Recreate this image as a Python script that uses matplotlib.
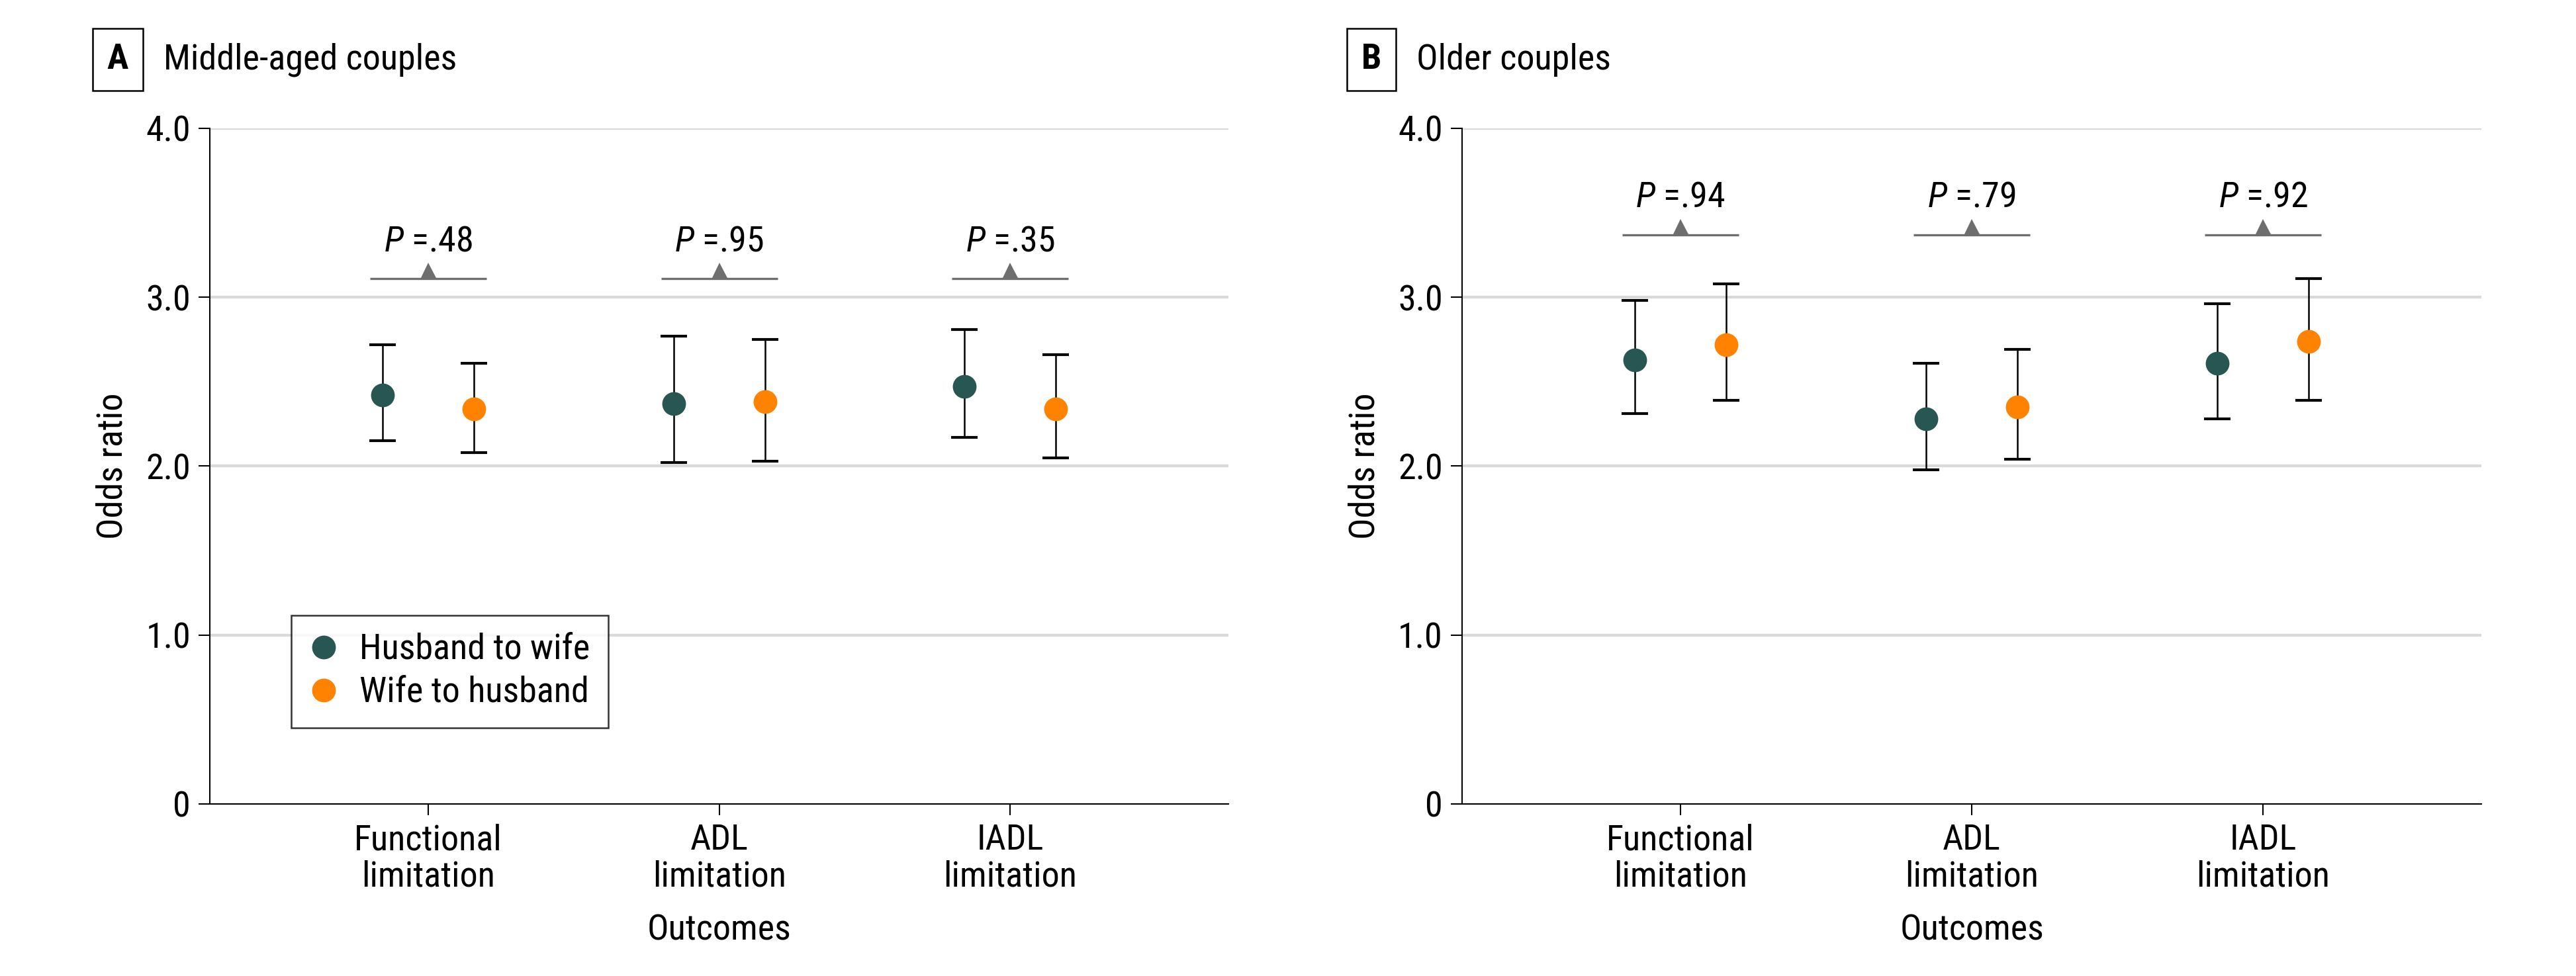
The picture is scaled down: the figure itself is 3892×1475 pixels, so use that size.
import matplotlib
matplotlib.use("Agg")
import matplotlib.pyplot as plt
import matplotlib.font_manager as fm
import matplotlib.transforms as mtransforms
from matplotlib.lines import Line2D

# ---------------- data ----------------
categories = ["Functional\nlimitation", "ADL\nlimitation", "IADL\nlimitation"]
series_labels = ["Husband to wife", "Wife to husband"]

mid_hw_or = [2.42, 2.37, 2.47]
mid_hw_lo = [2.15, 2.02, 2.17]
mid_hw_hi = [2.72, 2.77, 2.81]
mid_wh_or = [2.34, 2.38, 2.34]
mid_wh_lo = [2.08, 2.03, 2.05]
mid_wh_hi = [2.61, 2.75, 2.66]
mid_p = [".48", ".95", ".35"]
mid_bracket = 3.11

old_hw_or = [2.63, 2.28, 2.61]
old_hw_lo = [2.31, 1.98, 2.28]
old_hw_hi = [2.98, 2.61, 2.96]
old_wh_or = [2.72, 2.35, 2.74]
old_wh_lo = [2.39, 2.04, 2.39]
old_wh_hi = [3.08, 2.69, 3.11]
old_p = [".94", ".79", ".92"]
old_bracket = 3.37

yticks = [0, 1, 2, 3, 4]
ytick_labels = ["0", "1.0", "2.0", "3.0", "4.0"]

# ---------------- style ----------------
names = {f.name for f in fm.fontManager.ttflist}
FONT = "DejaVu Sans"
for cand in ["Liberation Sans Narrow", "DejaVu Sans Condensed", "Roboto Condensed", "Liberation Sans"]:
    if cand in names:
        FONT = cand
        break
plt.rcParams["font.family"] = [FONT, "DejaVu Sans"]
plt.rcParams["mathtext.fontset"] = "custom"
plt.rcParams["mathtext.it"] = FONT + ":italic"
plt.rcParams["mathtext.rm"] = FONT
FS = 13

C_HW = "#285652"
C_WH = "#ff8300"
GRID = "#d9d9d9"
BRK = "#6e6e6e"

fig = plt.figure(figsize=(3892 / 300, 1475 / 300), dpi=300)
bottom, top = 0.1763, 0.8685
axA = fig.add_axes([0.0815, bottom, 0.4769 - 0.0815, top - bottom])
axB = fig.add_axes([0.5676, bottom, 0.9633 - 0.5676, top - bottom])

offset = 0.157
half_br = 0.2


def draw(ax, hw, hw_lo, hw_hi, wh, wh_lo, wh_hi, pvals, brk):
    x = [1, 2, 3]
    for v in [1, 2, 3, 4]:
        ax.axhline(v, color=GRID, lw=1.0, zorder=0)
    for xs, est, lo, hi, col in [
        ([i - offset for i in x], hw, hw_lo, hw_hi, C_HW),
        ([i + offset for i in x], wh, wh_lo, wh_hi, C_WH),
    ]:
        err = [[e - l for e, l in zip(est, lo)], [h - e for e, h in zip(est, hi)]]
        ax.errorbar(xs, est, yerr=err, fmt="none", ecolor="black",
                    elinewidth=0.6, capsize=4.9, capthick=1.0, zorder=2)
        ax.plot(xs, est, "o", color=col, markersize=8.6, mec="none", zorder=3)
    tri_tr = mtransforms.offset_copy(ax.transData, fig=fig, x=0, y=2.8, units="points")
    for i, p in zip(x, pvals):
        ax.plot([i - half_br, i + half_br], [brk, brk], color=BRK, lw=0.8,
                solid_capstyle="butt", zorder=2)
        ax.plot([i], [brk], marker="^", color=BRK, markersize=6.0, mec="none",
                transform=tri_tr, zorder=2)
        ax.text(i, brk + 0.165, r"$P$ =" + p, ha="center", va="baseline",
                fontsize=FS)
    ax.set_xlim(0.25, 3.75)
    ax.set_ylim(0, 4)
    ax.set_xticks(x)
    ax.set_xticklabels(categories, fontsize=FS, linespacing=1.12)
    ax.set_yticks(yticks)
    ax.set_yticklabels(ytick_labels, fontsize=FS)
    ax.tick_params(axis="both", direction="out", length=4, width=0.5,
                   color="black", pad=3)
    for s in ["top", "right"]:
        ax.spines[s].set_visible(False)
    for s in ["left", "bottom"]:
        ax.spines[s].set_linewidth(0.5)
        ax.spines[s].set_color("black")
    ax.set_ylabel("Odds ratio", fontsize=FS, labelpad=6)
    ax.set_xlabel("Outcomes", fontsize=FS, labelpad=7)


draw(axA, mid_hw_or, mid_hw_lo, mid_hw_hi, mid_wh_or, mid_wh_lo, mid_wh_hi,
     mid_p, mid_bracket)
draw(axB, old_hw_or, old_hw_lo, old_hw_hi, old_wh_or, old_wh_lo, old_wh_hi,
     old_p, old_bracket)

handles = [Line2D([], [], ls="none", marker="o", color=C_HW, markersize=8.6, mec="none"),
           Line2D([], [], ls="none", marker="o", color=C_WH, markersize=8.6, mec="none")]
leg = axA.legend(handles, series_labels, loc="lower left",
                 bbox_to_anchor=(0.08, 0.113), borderaxespad=0, fontsize=FS,
                 frameon=True, fancybox=False, edgecolor="black",
                 handlelength=0.8, handletextpad=0.6, labelspacing=0.25,
                 borderpad=0.5)
leg.get_frame().set_linewidth(0.6)

# panel labels
for xl, xt, yy, lab, title in [(178 / 3892, 247 / 3892, 1 - 90 / 1475, "A", "Middle-aged couples"),
                               (2072 / 3892, 2140 / 3892, 1 - 90 / 1475, "B", "Older couples")]:
    fig.text(xl, yy, lab, fontsize=FS, fontweight="bold", ha="center", va="center",
             bbox=dict(boxstyle="square,pad=0.4", fc="white", ec="black", lw=0.6))
    fig.text(xt, yy, title, fontsize=FS, ha="left", va="center")

fig.savefig("out.png", dpi=300)
